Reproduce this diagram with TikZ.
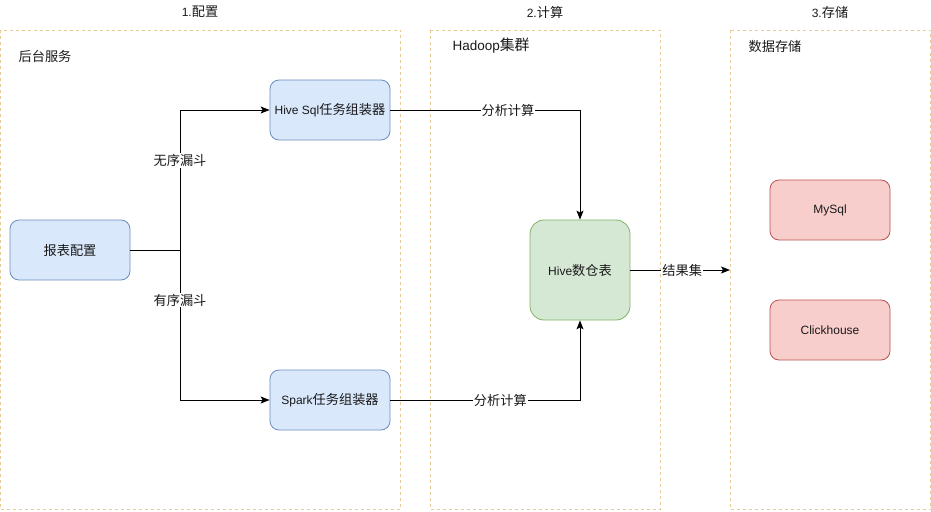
\documentclass[tikz,border=0pt]{standalone}
\usepackage{fontspec}
\setmainfont{Liberation Sans}
\newfontfamily\cjk[Scale=1.1]{Noto Sans CJK SC}
\usetikzlibrary{arrows.meta}
\definecolor{cbord}{HTML}{E6CC94}
\definecolor{cfill}{HTML}{FFFFFF}
\definecolor{bfill}{HTML}{DAE8FC}\definecolor{bline}{HTML}{6C8EBF}
\definecolor{gfill}{HTML}{D5E8D4}\definecolor{gline}{HTML}{82B366}
\definecolor{rfill}{HTML}{F8CECC}\definecolor{rline}{HTML}{B85450}
\tikzset{
  container/.style={draw=cbord, fill=cfill, dashed, dash pattern=on 3pt off 3pt, line width=0.8pt},
  box/.style={rounded corners=9pt, minimum width=120pt, minimum height=60pt, inner sep=0pt, line width=0.8pt},
  bluebox/.style={box, draw=bline, fill=bfill},
  greenbox/.style={box, draw=gline, fill=gfill},
  redbox/.style={box, draw=rline, fill=rfill},
  txt/.style={font=\fontsize{12}{14}\selectfont, text=black!90},
  lbl/.style={fill=white, inner sep=1pt, font=\fontsize{12}{14}\selectfont\cjk},
  conn/.style={draw=black, line width=1pt, -{Stealth[length=9pt,width=7pt,inset=2pt]}},
}
\begin{document}
\begin{tikzpicture}[x=1pt,y=-1pt, every node/.style={txt}]
\useasboundingbox (0,0) rectangle (931,511);
% containers
\draw[container] (0.5,30) rectangle (400,509.5);
\draw[container] (430,30) rectangle (660,509.5);
\draw[container] (730,30) rectangle (930.5,509.5);
% titles
\node (t1) at (200,12) {1.{\cjk 配置}};
\node (t2) at (545,12) {2.{\cjk 计算}};
\node (t3) at (830,12) {3.{\cjk 存储}};
\node (h1) at (45,56) {\cjk 后台服务};
\node[font=\fontsize{13.5}{15}\selectfont] (h2) at (491,46) {Hadoop{\cjk 集群}};
\node (h3) at (775,46) {\cjk 数据存储};
% nodes
\node[bluebox] (cfg) at (70,250) {\cjk 报表配置};
\node[bluebox] (hsql) at (330,110) {Hive Sql{\cjk 任务组装器}};
\node[bluebox] (spark) at (330,400) {Spark{\cjk 任务组装器}};
\node[greenbox, minimum width=100pt, minimum height=100pt, rounded corners=14pt] (hive) at (580,270) {Hive{\cjk 数仓表}};
\node[redbox] (mysql) at (830,210) {MySql};
\node[redbox] (ch) at (830,330) {Clickhouse};
\coordinate (res) at (730,270);
% connectors
\draw[conn] (cfg.east) -- (180,250) |- node[lbl, pos=0.32] {无序漏斗} (hsql.west);
\draw[conn] (cfg.east) -- (180,250) |- node[lbl, pos=0.167] {有序漏斗} (spark.west);
\draw[conn] (hsql.east) -| node[lbl, pos=0.31] {分析计算} (hive.north);
\draw[conn] (spark.east) -| node[lbl, pos=0.29] {分析计算} (hive.south);
\draw[conn] (hive.east) -- node[lbl, pos=0.52] {结果集} (res);
\end{tikzpicture}
\end{document}
